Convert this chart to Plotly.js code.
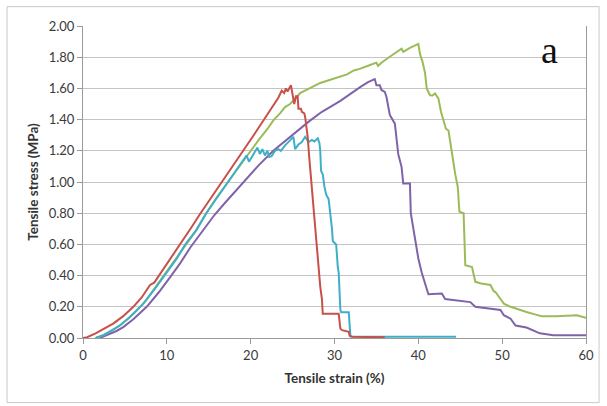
<!DOCTYPE html>
<html>
<head>
<meta charset="utf-8">
<script src="https://cdn.plot.ly/plotly-3.0.1.min.js"></script>
<style>html,body{margin:0;padding:0;background:#fff;}#chart{width:607px;height:406px;}</style>
</head>
<body>
<div id="chart"></div>
<script>
// Tensile strain (%) / Tensile stress (MPa) per specimen
const redStrain = [0, 0.5, 1.5, 2.5, 3.6, 4.8, 6.0, 7.0, 8.0, 8.5, 9.2, 10.0, 11.0, 12.0, 13.0, 13.9, 15.0, 16.3, 17.5, 19.1, 20.3, 21.5, 22.5, 23.3, 23.7, 24.0, 24.2, 24.4, 24.8, 25.0, 25.2, 25.4, 25.6, 25.7, 26.0, 26.1, 26.4, 26.5, 26.6, 26.8, 27.0, 27.2, 27.5, 27.7, 27.9, 28.1, 28.3, 28.5, 28.6, 30.5, 30.7, 30.9, 31.7, 31.8, 32.1, 36.0];
const redStress = [0, 0.005, 0.03, 0.06, 0.092, 0.14, 0.20, 0.26, 0.34, 0.355, 0.41, 0.477, 0.555, 0.635, 0.715, 0.79, 0.875, 0.98, 1.075, 1.20, 1.295, 1.39, 1.47, 1.54, 1.585, 1.57, 1.60, 1.58, 1.62, 1.556, 1.50, 1.55, 1.55, 1.47, 1.47, 1.45, 1.44, 1.417, 1.374, 1.29, 1.15, 1.02, 0.82, 0.68, 0.56, 0.44, 0.33, 0.25, 0.155, 0.155, 0.06, 0.05, 0.04, 0.015, 0.008, 0.005];

const cyanStrain = [1.5, 2.5, 3.5, 4.4, 5.5, 6.3, 7.2, 8.5, 10.0, 11.2, 12.2, 13.5, 14.7, 16.0, 17.3, 18.5, 19.3, 19.5, 19.8, 20.1, 20.5, 20.8, 21.1, 21.4, 21.7, 22.0, 22.2, 22.5, 22.9, 23.3, 23.6, 24.1, 24.7, 25.1, 25.3, 25.7, 26.1, 26.5, 26.9, 27.3, 27.6, 28.0, 28.2, 28.3, 28.4, 28.6, 28.8, 29.0, 29.3, 29.5, 29.7, 29.8, 30.2, 30.4, 30.5, 30.7, 30.8, 31.7, 31.9, 35.0, 40.0, 44.5];
const cyanStress = [0, 0.02, 0.05, 0.08, 0.13, 0.17, 0.22, 0.31, 0.42, 0.51, 0.60, 0.69, 0.80, 0.90, 1.00, 1.09, 1.15, 1.17, 1.13, 1.16, 1.20, 1.22, 1.18, 1.21, 1.17, 1.20, 1.16, 1.165, 1.20, 1.21, 1.20, 1.235, 1.267, 1.29, 1.21, 1.24, 1.256, 1.29, 1.256, 1.27, 1.26, 1.28, 1.25, 1.20, 1.07, 1.05, 0.97, 0.92, 0.89, 0.80, 0.70, 0.62, 0.60, 0.45, 0.42, 0.18, 0.165, 0.165, 0.01, 0.008, 0.008, 0.008];

const greenStrain = [1.5, 2.5, 3.5, 4.5, 5.5, 6.5, 7.5, 8.5, 10.0, 11.2, 12.35, 13.5, 14.7, 16.0, 17.3, 18.5, 19.9, 21.1, 22.0, 22.7, 23.5, 24.1, 24.7, 25.1, 25.5, 25.9, 26.7, 27.5, 28.3, 29.5, 30.7, 31.5, 32.3, 33.0, 34.0, 34.6, 35.0, 35.2, 35.6, 36.5, 37.3, 38.0, 38.2, 39.0, 40.0, 40.2, 40.5, 40.8, 41.0, 41.4, 41.7, 42.0, 42.2, 42.4, 42.7, 43.0, 43.3, 43.6, 44.0, 44.4, 44.7, 44.9, 45.4, 45.6, 46.4, 46.8, 47.5, 48.6, 49.0, 49.2, 49.8, 50.2, 51.0, 52.0, 52.9, 54.0, 54.7, 56.5, 58.0, 58.9, 60.0];
const greenStress = [0, 0.02, 0.05, 0.085, 0.13, 0.18, 0.24, 0.315, 0.425, 0.515, 0.60, 0.69, 0.80, 0.905, 1.00, 1.09, 1.19, 1.28, 1.34, 1.395, 1.44, 1.48, 1.50, 1.52, 1.545, 1.57, 1.59, 1.615, 1.635, 1.655, 1.675, 1.69, 1.715, 1.725, 1.745, 1.76, 1.765, 1.745, 1.765, 1.80, 1.83, 1.855, 1.835, 1.86, 1.885, 1.82, 1.77, 1.70, 1.60, 1.556, 1.555, 1.567, 1.55, 1.535, 1.45, 1.395, 1.34, 1.33, 1.18, 1.05, 0.97, 0.81, 0.80, 0.466, 0.455, 0.36, 0.35, 0.34, 0.30, 0.295, 0.25, 0.22, 0.20, 0.18, 0.167, 0.15, 0.139, 0.14, 0.145, 0.146, 0.13];

const purpleStrain = [2.0, 3.0, 4.0, 4.8, 6.0, 7.6, 9.0, 10.4, 11.6, 12.8, 14.4, 15.7, 17.0, 18.5, 19.9, 21.0, 22.7, 24.7, 27.0, 28.5, 30.7, 33.1, 34.0, 34.8, 35.0, 35.4, 35.6, 36.0, 36.2, 36.6, 37.2, 37.6, 38.0, 38.2, 39.0, 39.1, 39.6, 40.0, 40.4, 40.8, 41.2, 42.8, 43.2, 46.2, 46.8, 49.8, 50.2, 51.0, 51.6, 52.9, 54.5, 56.1, 60.0];
const purpleStress = [0, 0.02, 0.045, 0.07, 0.12, 0.20, 0.29, 0.39, 0.48, 0.58, 0.70, 0.79, 0.87, 0.96, 1.045, 1.11, 1.20, 1.29, 1.39, 1.45, 1.52, 1.61, 1.64, 1.66, 1.62, 1.62, 1.59, 1.577, 1.545, 1.43, 1.374, 1.18, 1.096, 0.99, 0.99, 0.80, 0.65, 0.51, 0.42, 0.35, 0.28, 0.285, 0.25, 0.23, 0.20, 0.18, 0.146, 0.124, 0.08, 0.067, 0.03, 0.017, 0.017];

const xTicks = [0, 10, 20, 30, 40, 50, 60];
const yTicks = [0, 0.2, 0.4, 0.6, 0.8, 1.0, 1.2, 1.4, 1.6, 1.8, 2.0];
const xTitle = 'Tensile strain (%)';
const yTitle = 'Tensile stress (MPa)';
const panelLabel = 'a';

function line(x, y, color) {
  return {x: x, y: y, type: 'scatter', mode: 'lines', line: {color: color, width: 2}, hoverinfo: 'skip', showlegend: false};
}

const data = [
  line(purpleStrain, purpleStress, '#7F63A8'),
  line(greenStrain, greenStress, '#9BBB59'),
  line(cyanStrain, cyanStress, '#3FAFC9'),
  line(redStrain, redStress, '#C8504A')
];

const axisFont = {family: 'Lato, "Liberation Sans", sans-serif', size: 13, color: '#3A3A3A'};
const titleFont = {family: 'Lato, sans-serif', size: 13.5, color: '#333333', weight: 'bold'};

const layout = {
  width: 607, height: 406,
  margin: {l: 83, r: 21, t: 26, b: 68},
  paper_bgcolor: '#ffffff', plot_bgcolor: '#ffffff',
  showlegend: false,
  xaxis: {
    range: [0, 60], tickvals: xTicks, ticktext: xTicks.map(v => String(v)),
    showgrid: false, zeroline: false,
    showline: true, linecolor: '#9A9A9A', linewidth: 1, mirror: false,
    ticks: 'outside', ticklen: 5, tickcolor: '#9A9A9A',
    tickfont: axisFont,
    title: {text: xTitle, font: titleFont, standoff: 11}
  },
  yaxis: {
    range: [0, 2.0], tickvals: yTicks, ticktext: yTicks.map(v => v.toFixed(2)),
    showgrid: true, gridcolor: '#C4C4C4', gridwidth: 1, zeroline: false,
    showline: true, linecolor: '#9A9A9A', linewidth: 1, mirror: true,
    ticks: 'outside', ticklen: 5, tickcolor: '#9A9A9A',
    tickfont: axisFont,
    title: {text: yTitle, font: titleFont, standoff: 6}
  },
  shapes: [
    {type: 'rect', xref: 'paper', yref: 'paper', x0: -0.151, x1: 1.026, y0: -0.207, y1: 1.062, line: {color: '#C8C8C8', width: 1}, fillcolor: 'rgba(0,0,0,0)', layer: 'below'}
  ],
  annotations: [
    {text: panelLabel, xref: 'paper', yref: 'paper', x: 0.927, y: 0.923, xanchor: 'center', yanchor: 'middle', showarrow: false,
     font: {family: '"Liberation Serif", "DejaVu Serif", serif', size: 38, color: '#111111'}}
  ]
};

Plotly.newPlot('chart', data, layout, {staticPlot: true, displayModeBar: false});
</script>
</body>
</html>
